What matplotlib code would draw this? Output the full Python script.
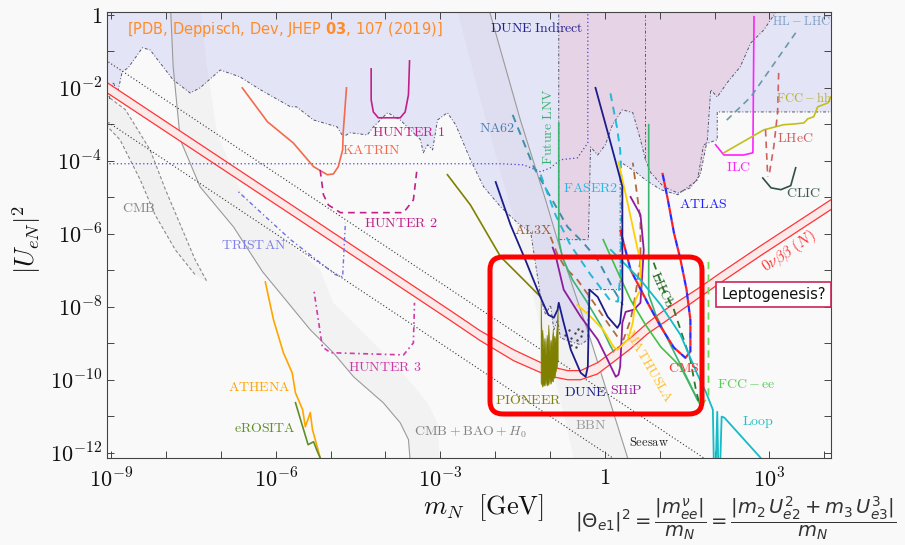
import matplotlib
matplotlib.use("Agg")
import matplotlib.pyplot as plt
from matplotlib.patches import FancyBboxPatch
from matplotlib.ticker import FixedLocator, NullFormatter
import numpy as np

plt.rcParams['mathtext.fontset'] = 'cm'
plt.rcParams['font.family'] = ['DejaVu Sans']

BG = '#f9f9f9'

# all values are log10(m_N / GeV) and log10(|U_eN|^2)

# excluded (current) region, lower boundary
lav_m = [-9.2, -9.07, -9.02, -8.96, -8.89, -8.80, -8.69, -8.43, -8.29, -7.87, -7.56, -7.38, -7.01,
         -6.65, -6.28, -5.73, -5.62, -5.31, -4.88, -4.77, -4.64, -4.33, -4.22, -3.96, -3.73, -3.36,
         -3.31, -3.23, -3.14, -3.05, -2.87, -2.72, -2.45, -2.21, -1.90, -1.59, -1.35, -1.17, -1.08,
         -0.99, -0.93, -0.86, -0.81, -0.62, -0.44, -0.31, -0.30, 0.28, 0.28, 0.56, 0.74, 1.02, 1.33,
         1.69, 1.80, 2.05, 2.05, 4.3]
lav_u = [-2.00, -2.00, -2.33, -1.84, -2.19, -1.56, -1.45, -0.90, -0.96, -1.78, -2.14, -2.00, -1.51,
         -1.70, -2.05, -2.52, -2.52, -2.88, -3.07, -3.34, -3.23, -3.29, -3.07, -2.68, -2.88, -3.42,
         -3.78, -3.56, -3.70, -2.88, -2.68, -3.01, -3.97, -4.71, -5.26, -5.70, -5.97, -7.73, -8.22,
         -7.95, -8.63, -8.36, -8.85, -8.96, -9.04, -8.90, -7.53, -7.53, -4.03, -4.30, -4.52, -4.79,
         -4.93, -4.52, -3.56, -3.42, -2.66, -2.66]

# LNV excluded region (mauve)
mauve_m = [-0.84, -0.84, -0.30, -0.26, -0.13, 0.01, 0.14, 0.32, 0.51, 0.65, 0.74, 0.84, 1.07, 1.33,
           1.56, 1.74, 1.87, 1.93, 2.05, 2.23, 2.47, 2.66, 2.90, 3.12, 3.2]
mauve_u = [0.5, -6.16, -6.16, -3.62, -3.84, -3.56, -3.01, -2.60, -2.68, -3.42, -3.97, -4.33, -4.71,
           -4.88, -4.74, -4.38, -3.42, -2.05, -2.25, -1.86, -1.42, -0.77, -0.41, 0.08, 0.5]

# cosmology bands
cbh_left_m = [-7.92, -7.87, -7.74, -7.38, -6.77, -6.24, -5.37, -4.95, -4.58, -4.04, -3.73, -3.58, -3.54]
cbh_left_u = [0.3, -1.42, -3.42, -4.71, -5.81, -7.04, -8.63, -9.26, -9.92, -10.63, -11.18, -11.64, -12.4]
cbh_right_m = [-7.38, -7.25, -7.07, -6.65, -5.92, -5.19, -4.95, -4.33, -3.73, -3.23, -3.05, -3.00]
cbh_right_u = [0.3, -1.42, -3.23, -4.79, -6.03, -6.99, -7.89, -8.82, -9.73, -10.63, -11.18, -12.4]
bbn_left_m = [-2.72, -2.27, -1.81, -1.45, -1.17, -0.81, -0.53]
bbn_left_u = [0.3, -2.33, -4.79, -6.71, -8.63, -10.55, -12.4]
bbn_right_m = [-2.14, -1.54, -1.08, -0.81, -0.26, 0.47]
bbn_right_u = [0.3, -2.88, -5.07, -6.44, -8.90, -12.4]
cmb_a_m = [-9.1, -8.74, -8.29, -8.01, -7.74, -7.47, -7.25]
cmb_a_u = [-2.19, -2.60, -3.70, -4.79, -5.75, -6.71, -7.32]
cmb_b_m = [-9.1, -8.84, -8.47, -8.20, -7.83, -7.47]
cmb_b_u = [-3.01, -3.42, -4.52, -5.48, -6.44, -7.12]

# seesaw lines
seesaw1_m = [-9.1, 1.8]
seesaw1_u = [-1.24, -12.14]
seesaw2_m = [-9.1, 0.14]
seesaw2_u = [-2.90, -12.14]

# 0nubb band
bb_m = [-9.2, -5.55, -2.81, -2.27, -1.66, -1.04, -0.68, -0.44, -0.13, 0.16, 0.47, 0.78, 1.07, 1.38,
        1.69, 2.11, 2.84, 4.2]
bb_hi = [-1.73, -5.37, -8.11, -8.66, -9.18, -9.62, -9.75, -9.75, -9.53, -9.21, -8.85, -8.44, -8.11,
         -7.81, -7.51, -7.07, -6.33, -4.99]
bb_lo = [-2.01, -5.64, -8.38, -8.93, -9.48, -9.89, -10.00, -10.00, -9.84, -9.51, -9.15, -8.74, -8.44,
         -8.11, -7.78, -7.34, -6.60, -5.26]

katrin_m = [-6.61, -6.15, -5.68, -5.31, -5.06, -4.95, -4.86, -4.78, -4.77, -4.71]
katrin_u = [-2.00, -2.93, -3.51, -4.16, -4.38, -4.36, -4.16, -3.70, -3.23, -2.00]
hunter1_m = [-4.26, -4.26, -4.22, -4.13, -3.73, -3.64, -3.58, -3.56]
hunter1_u = [-1.48, -2.33, -2.66, -2.82, -2.82, -2.66, -2.19, -1.26]
hunter2_m = [-5.19, -5.13, -5.04, -4.82, -3.67, -3.49, -3.43]
hunter2_u = [-4.25, -4.93, -5.21, -5.42, -5.42, -5.07, -4.30]
hunter3_m = [-5.30, -5.15, -5.00, -3.67, -3.49, -3.47]
hunter3_u = [-7.59, -9.10, -9.26, -9.32, -8.99, -7.89]
tristan_m = [-6.68, -5.73, -4.91, -4.78, -4.73]
tristan_u = [-4.85, -6.16, -7.12, -7.18, -5.70]
athena_m = [-6.19, -6.04, -5.86, -5.70, -5.64, -5.51, -5.46, -5.37, -5.33, -5.28, -5.19]
athena_u = [-7.32, -8.36, -9.26, -9.81, -10.36, -10.82, -11.29, -10.90, -11.37, -11.64, -12.14]
erosita_m = [-5.64, -5.41, -5.31, -5.24, -5.19]
erosita_u = [-10.63, -11.78, -11.70, -11.97, -12.14]

dunei_m = [-9.1, -1.90, -1.48, -1.17, -0.99, -0.81, -0.50, -0.31, -0.31]
dunei_u = [-4.08, -4.08, -4.11, -4.30, -4.19, -3.97, -3.92, -3.51, 0.5]
na62_m = [-1.68, -1.30, -0.99, -0.68, -0.39, -0.13, 0.16, 0.33]
na62_u = [-2.74, -4.16, -4.99, -5.81, -6.25, -6.71, -7.53, -7.95]
faser_m = [-1.17, -0.90, -0.63, -0.26, 0.09, 0.24, 0.29, 0.31, 0.28, 0.22, 0.09]
faser_u = [-4.38, -5.48, -6.30, -7.12, -7.81, -7.86, -6.99, -4.79, -3.70, -3.07, -2.05]
dune_m = [-1.99, -1.72, -1.45, -1.17, -1.03, -0.93, -0.86, -0.84, -0.75, -0.62, -0.44, -0.35, -0.31,
          -0.28, -0.13, 0.05, 0.23, 0.28, 0.32, 0.32, 0.09, -0.17]
dune_u = [-4.58, -5.75, -6.71, -7.75, -8.22, -8.30, -8.08, -7.89, -8.44, -9.18, -9.81, -9.92, -9.64,
          -7.53, -7.73, -8.27, -8.58, -8.44, -7.81, -4.71, -3.42, -2.00]
pioneer_m = [-2.87, -2.45, -1.90, -1.48, -1.17]
pioneer_u = [-4.38, -5.21, -6.63, -7.26, -7.73]
pion_fill_m = [-1.17, -1.15, -1.14, -1.12, -1.10, -1.08, -1.06, -1.04, -1.03, -1.01, -0.99, -0.97,
               -0.95, -0.93, -0.92, -0.90, -0.88, -0.86]
pion_top_u = [-7.81, -9.04, -8.63, -9.18, -8.85, -9.32, -8.77, -9.12, -8.49, -9.23, -8.90, -9.07,
              -8.63, -9.01, -8.79, -8.96, -8.58, -8.08]
pion_bot_u = [-10.08, -10.14, -10.19, -10.11, -10.16, -10.00, -10.16, -10.08, -10.14, -9.95, -10.11,
              -10.00, -10.05, -9.89, -9.95, -9.78, -9.67, -9.45]
ship_m = [-0.95, -0.90, -0.75, -0.44, -0.13, 0.05, 0.20, 0.25, 0.28, 0.32, 0.38, 0.53, 0.65, 0.71, 0.65, 0.47]
ship_u = [-6.38, -6.58, -7.53, -8.27, -8.90, -9.45, -9.92, -9.86, -9.64, -8.44, -8.14, -8.08, -7.89,
          -6.44, -5.48, -4.99]
mathusla_m = [-0.50, -0.26, -0.03, 0.16, 0.23, 0.42, 0.51, 0.56, 0.65, 0.65, 0.60, 0.47, 0.25]
mathusla_u = [-7.95, -8.27, -8.63, -9.10, -9.18, -8.90, -8.44, -7.81, -7.53, -6.71, -6.44, -5.53, -4.03]
al3x_m = [-0.99, -0.86, -0.72, -0.50, -0.20, 0.05, 0.23, 0.34, 0.47, 0.56, 0.65, 0.65, 0.51]
al3x_u = [-6.08, -6.58, -6.93, -7.26, -7.89, -8.44, -8.82, -8.90, -8.36, -7.67, -6.71, -5.62, -4.05]
cms_m = [0.28, 0.47, 0.78, 1.02, 1.26, 1.47, 1.56, 1.56, 1.49, 1.38, 1.26, 1.15, 1.05]
cms_u = [-5.89, -6.99, -7.89, -8.55, -9.12, -9.40, -9.23, -8.36, -7.53, -6.71, -5.97, -5.07, -4.33]
lhcb_m = [0.89, 1.07, 1.26, 1.38, 1.56, 1.66, 1.75]
lhcb_u = [-6.79, -7.53, -8.08, -8.63, -9.45, -10.27, -10.82]
lnv1_m = [-0.84, -0.84, -0.77, -0.59, -0.35, -0.08, 0.09, 0.16]
lnv1_u = [-2.96, -6.16, -6.66, -7.26, -7.81, -8.49, -9.04, -9.23]
lnv2_m = [-0.03, 0.20, 0.47, 0.74, 1.02, 1.38, 1.69, 1.77]
lnv2_u = [-6.16, -6.93, -7.81, -8.49, -9.10, -9.64, -10.55, -10.77]
lnv3_m = [0.80, 0.80, 0.93, 1.15, 1.38, 1.56, 1.69]
lnv3_u = [-3.01, -7.67, -8.22, -8.90, -9.59, -10.14, -10.55]
loop_m = [0.11, 0.65, 1.02, 1.38, 1.69, 1.84, 1.97, 1.99, 2.02, 2.05, 2.07, 2.10, 2.13, 2.18, 2.84]
loop_u = [-6.44, -7.26, -7.95, -8.77, -9.86, -10.33, -10.82, -12.5, -12.5, -10.88, -12.5, -12.5,
          -11.01, -11.04, -12.14]
fccee_m = [1.89, 1.89, 1.84, 1.71]
fccee_u = [-6.77, -10.47, -10.55, -10.82]
ilc_m = [2.72, 2.70, 2.53, 2.17, 2.02]
ilc_u = [-0.05, -3.78, -3.84, -3.84, -3.56]
fcchh_m = [2.17, 2.90, 3.26, 3.45, 3.63, 3.70, 3.81, 3.88, 4.07, 4.12]
fcchh_u = [-3.78, -3.15, -3.01, -2.99, -2.96, -2.85, -2.79, -2.52, -2.41, -2.25]
hllhc_m = [3.48, 2.66, 2.17]
hllhc_u = [-0.49, -2.25, -2.96]
lhec1_m = [3.17, 3.15, 3.08, 2.99]
lhec1_u = [-1.59, -2.68, -3.62, -4.44]
lhec2_m = [2.93, 2.97]
lhec2_u = [-3.15, -4.44]
clic_m = [2.88, 3.03, 3.21, 3.39, 3.48]
clic_u = [-4.47, -4.74, -4.79, -4.68, -4.19]
dots_m = [-0.72, -0.66, -0.61, -0.55, -0.51, -0.48, -0.44, -0.41, -0.62, -0.53]
dots_u = [-8.77, -8.63, -8.85, -8.71, -8.90, -8.60, -8.79, -8.66, -9.04, -9.10]


def P(m, u):
    return 10 ** np.asarray(m, float), 10 ** np.asarray(u, float)


fig = plt.figure(figsize=(9.05, 5.45), dpi=100, facecolor=BG)
ax = fig.add_axes([0.118, 0.160, 0.800, 0.818])
ax.set_facecolor(BG)
ax.set_xscale('log')
ax.set_yscale('log')

# regions
ax.fill(*P(lav_m + [4.3, -9.2], lav_u + [0.5, 0.5]), color='#e4e4f7', lw=0, zorder=1)
ax.plot(*P(lav_m, lav_u), color='#555570', lw=0.7, ls=(0, (3, 2, 1, 2)), zorder=2)
ax.fill(*P(mauve_m, mauve_u), color='#e6d3e5', lw=0, zorder=1.5)
ax.plot(*P(mauve_m, mauve_u), color='#555570', lw=0.7, ls=(0, (3, 2, 1, 2)), zorder=2)
ax.plot(*P([0.74, 0.74], [0.5, -3.97]), color='#555570', lw=0.7, ls=(0, (3, 2, 1, 2)), zorder=2)

ax.fill(*P(cbh_left_m + cbh_right_m[::-1], cbh_left_u + cbh_right_u[::-1]),
        color='#808080', alpha=0.05, lw=0, zorder=2.5)
ax.plot(*P(cbh_left_m, cbh_left_u), color='#9a9a9a', lw=0.8, zorder=3)
ax.fill(*P(bbn_left_m + bbn_right_m[::-1], bbn_left_u + bbn_right_u[::-1]),
        color='#808080', alpha=0.05, lw=0, zorder=2.5)
ax.plot(*P(bbn_right_m, bbn_right_u), color='#9a9a9a', lw=0.8, zorder=3)
ax.fill(*P(cmb_a_m + cmb_b_m[::-1], cmb_a_u + cmb_b_u[::-1]),
        color='#808080', alpha=0.06, lw=0, zorder=2.5)
ax.plot(*P(cmb_a_m, cmb_a_u), color='#8a8a8a', lw=0.8, ls=(0, (3, 2)), zorder=3)
ax.plot(*P(cmb_b_m, cmb_b_u), color='#8a8a8a', lw=0.8, ls=(0, (3, 2)), zorder=3)

ax.plot(*P(seesaw1_m, seesaw1_u), color='#333333', lw=0.8, ls=(0, (1, 2)), zorder=3)
ax.plot(*P(seesaw2_m, seesaw2_u), color='#333333', lw=0.8, ls=(0, (1, 2)), zorder=3)

# 0nubb band
bx = 10 ** np.asarray(bb_m)
ax.fill_between(bx, 10 ** np.asarray(bb_lo), 10 ** np.asarray(bb_hi), color='#fce9e9', lw=0, zorder=3)
ax.plot(*P(bb_m, bb_hi), color='#ff3535', lw=0.9, zorder=4)
ax.plot(*P(bb_m, bb_lo), color='#ff3535', lw=0.9, zorder=4)

# experiment curves
Z = 5
ax.plot(*P(dunei_m, dunei_u), color='#4545cc', lw=0.9, ls=(0, (1, 2)), zorder=Z)
ax.plot(*P(katrin_m, katrin_u), color='#f36a4c', lw=1.2, zorder=Z)
ax.plot(*P(hunter1_m, hunter1_u), color='#c21f8a', lw=1.2, zorder=Z)
ax.plot(*P(hunter2_m, hunter2_u), color='#c21f8a', lw=1.2, ls=(0, (4, 3)), zorder=Z)
ax.plot(*P(hunter3_m, hunter3_u), color='#cf3aa8', lw=1.2, ls=(0, (1, 2, 3, 2)), zorder=Z)
ax.plot(*P(tristan_m, tristan_u), color='#6f6fe0', lw=1.0, ls=(0, (1, 2, 3, 2)), zorder=Z)
ax.plot(*P(athena_m, athena_u), color='#ffa500', lw=1.2, zorder=Z)
ax.plot(*P(erosita_m, erosita_u), color='#5e8f28', lw=1.2, zorder=Z)
ax.plot(*P(na62_m, na62_u), color='#3f8fa8', lw=1.4, ls=(0, (4, 3)), zorder=Z)
ax.plot(*P(faser_m, faser_u), color='#22b8d8', lw=1.4, ls=(0, (4, 3)), zorder=Z)
ax.plot(*P(al3x_m, al3x_u), color='#b06a40', lw=1.3, ls=(0, (4, 3)), zorder=Z)
ax.plot(*P(lnv1_m, lnv1_u), color='#3cb371', lw=1.2, zorder=Z)
ax.plot(*P(lnv2_m, lnv2_u), color='#44c044', lw=1.2, zorder=Z)
ax.plot(*P(lnv3_m, lnv3_u), color='#3cb371', lw=1.2, zorder=Z)
ax.plot(*P(pioneer_m, pioneer_u), color='#808000', lw=1.2, zorder=Z)
ax.fill_between(10 ** np.asarray(pion_fill_m), 10 ** np.asarray(pion_bot_u),
                10 ** np.asarray(pion_top_u), color='#808000', lw=0.5, zorder=Z)
ax.plot(*P(ship_m, ship_u), color='#8e1c9e', lw=1.3, zorder=Z)
ax.plot(*P(mathusla_m, mathusla_u), color='#ffd000', lw=1.3, zorder=Z)
ax.plot(*P(dune_m, dune_u), color='#1c1c8c', lw=1.3, zorder=Z + 0.1)
ax.plot(*P(lhcb_m, lhcb_u), color='#2a7a2a', lw=1.3, ls=(0, (4, 3)), zorder=Z)
ax.plot(*P(cms_m, cms_u), color='#ff2020', lw=1.6, ls=(0, (3, 3)), zorder=Z)
ax.plot(*P(cms_m, cms_u), color='#2a2aff', lw=1.6, ls=(3, (3, 3)), zorder=Z)
ax.plot(*P(loop_m, loop_u), color='#14bcc8', lw=1.3, zorder=Z)
ax.plot(*P(fccee_m, fccee_u), color='#66dd55', lw=1.3, ls=(0, (4, 3)), zorder=Z)
ax.plot(*P(ilc_m, ilc_u), color='#ff22ff', lw=1.2, zorder=Z)
ax.plot(*P(fcchh_m, fcchh_u), color='#c2be1c', lw=1.2, zorder=Z)
ax.plot(*P(hllhc_m, hllhc_u), color='#6a9aaa', lw=1.2, ls=(0, (4, 3)), zorder=Z)
ax.plot(*P(lhec1_m, lhec1_u), color='#d06060', lw=1.2, ls=(0, (4, 3)), zorder=Z)
ax.plot(*P(lhec2_m, lhec2_u), color='#d06060', lw=1.2, ls=(0, (4, 3)), zorder=Z)
ax.plot(*P(clic_m, clic_u), color='#2f5046', lw=1.2, zorder=Z)
ax.plot(*P(dots_m, dots_u), ls='none', marker='.', ms=1.5, color='#444444', zorder=Z)


def tag(m, u, s, color, size=10, rot=0, raw=False):
    txt = s if raw else r'$\mathrm{' + s.replace(' ', r'\ ') + '}$'
    ax.text(10 ** m, 10 ** u, txt, color=color, fontsize=size, rotation=rot,
            ha='center', va='center', zorder=7)


tag(-4.26, -3.70, 'KATRIN', '#f36a4c')
tag(-3.58, -3.21, 'HUNTER 1', '#c21f8a')
tag(-3.73, -5.70, 'HUNTER 2', '#c21f8a')
tag(-4.02, -9.64, 'HUNTER 3', '#cf3aa8')
tag(-6.41, -6.30, 'TRISTAN', '#8080e6')
tag(-8.49, -5.29, 'CMB', '#858585')
tag(-6.30, -10.19, 'ATHENA', '#ffa500')
tag(-6.19, -11.32, 'eROSITA', '#5e8f28')
tag(-2.45, -11.45, r'$\mathrm{CMB}+\mathrm{BAO}+H_0$', '#858585', raw=True)
tag(-0.26, -11.23, 'BBN', '#9a9a9a')
tag(0.80, -11.73, 'Seesaw', '#222222', size=9)
tag(-1.39, -10.55, 'PIONEER', '#808010')
tag(-0.35, -10.33, 'DUNE', '#1c1c8c')
tag(0.40, -10.27, 'SHiP', '#9a1fa0')
tag(0.80, -9.62, 'MATHUSLA', '#ffc125', rot=-60)
tag(1.44, -9.67, 'CMS', '#ff3030')
tag(1.04, -7.53, 'LHCb', '#2e6b2e', rot=-66)
tag(1.80, -5.18, 'ATLAS', '#2020ff')
tag(-0.26, -4.74, 'FASER2', '#2ab7e0')
tag(-1.30, -5.89, 'AL3X', '#a0603a')
tag(-1.97, -3.10, 'NA62', '#4a7fb5')
tag(-1.03, -3.07, 'Future LNV', '#3cb371', rot=90)
tag(-1.24, -0.36, 'DUNE Indirect', '#202090')
tag(3.59, -0.19, 'HL-LHC', '#7f9fc2', size=9)
tag(3.63, -2.27, 'FCC-hh', '#b8b030', size=9)
tag(3.48, -3.37, 'LHeC', '#cd6060')
tag(2.44, -4.16, 'ILC', '#ff20ff')
tag(3.63, -4.88, 'CLIC', '#3a5a50')
tag(2.58, -10.11, 'FCC-ee', '#55cc55')
tag(2.79, -11.15, 'Loop', '#20c0c8')
tag(3.35, -6.48, r'$0\nu\beta\beta\ (N)$', '#ff3535', size=11, rot=34, raw=True)

# axes
ax.set_xlim(10 ** -9.08, 10 ** 4.12)
ax.set_ylim(10 ** -12.14, 10 ** 0.08)
xmaj = [-9, -6, -3, 0, 3]
xlab = [r'$10^{-9}$', r'$10^{-6}$', r'$10^{-3}$', r'$1$', r'$10^{3}$']
ymaj = [0, -2, -4, -6, -8, -10, -12]
ylab = [r'$1$', r'$10^{-2}$', r'$10^{-4}$', r'$10^{-6}$', r'$10^{-8}$', r'$10^{-10}$', r'$10^{-12}$']
ax.set_xticks([10.0 ** k for k in xmaj])
ax.set_xticklabels(xlab)
ax.set_yticks([10.0 ** k for k in ymaj])
ax.set_yticklabels(ylab)
ax.xaxis.set_minor_locator(FixedLocator([10.0 ** k for k in range(-9, 5)]))
ax.yaxis.set_minor_locator(FixedLocator([10.0 ** k for k in range(-12, 1)]))
ax.xaxis.set_minor_formatter(NullFormatter())
ax.yaxis.set_minor_formatter(NullFormatter())
ax.tick_params(which='both', direction='in', top=True, right=True, length=5, width=0.7,
               color='#444444', labelsize=16, labelcolor='#111111')
ax.tick_params(axis='x', pad=7)
for s in ax.spines.values():
    s.set_color('#444444')
    s.set_linewidth(0.8)
    s.set_zorder(10)

ax.set_ylabel(r'$|U_{eN}|^2$', fontsize=19, color='#111111')
ax.yaxis.set_label_coords(-0.088, 0.49)
ax.set_xlabel(r'$m_N\ \ [\mathrm{GeV}]$', fontsize=19, color='#111111')
ax.xaxis.set_label_coords(0.52, -0.078)

# annotations
box = FancyBboxPatch((4.90, 1.31), 2.12, 1.57, boxstyle='round,pad=0,rounding_size=0.13',
                     transform=fig.dpi_scale_trans, ec='#ff0000', fc='none', lw=3.6, zorder=20)
fig.patches.append(box)
fig.text(0.855, 0.459, 'Leptogenesis?', fontsize=10.5, color='#111111', ha='center', va='center',
         bbox=dict(boxstyle='square,pad=0.35', fc='white', ec='#c8285a', lw=1.2), zorder=21)
fig.text(0.140, 0.945, r'[PDB, Deppisch, Dev, JHEP $\mathbf{03}$, 107 (2019)]', fontsize=10.5,
         color='#ff8c28', ha='left', va='center', math_fontfamily='dejavusans', zorder=21)
fig.text(0.8125, 0.050,
         r'$|\Theta_{e1}|^2 = \dfrac{|m^{\nu}_{ee}|}{m_N} = \dfrac{|m_2\,U^2_{e2} + m_3\,U^3_{e3}|}{m_N}$',
         fontsize=14, color='#333333', ha='center', va='center', math_fontfamily='dejavusans')

fig.savefig('out.png', dpi=100, facecolor=BG)
